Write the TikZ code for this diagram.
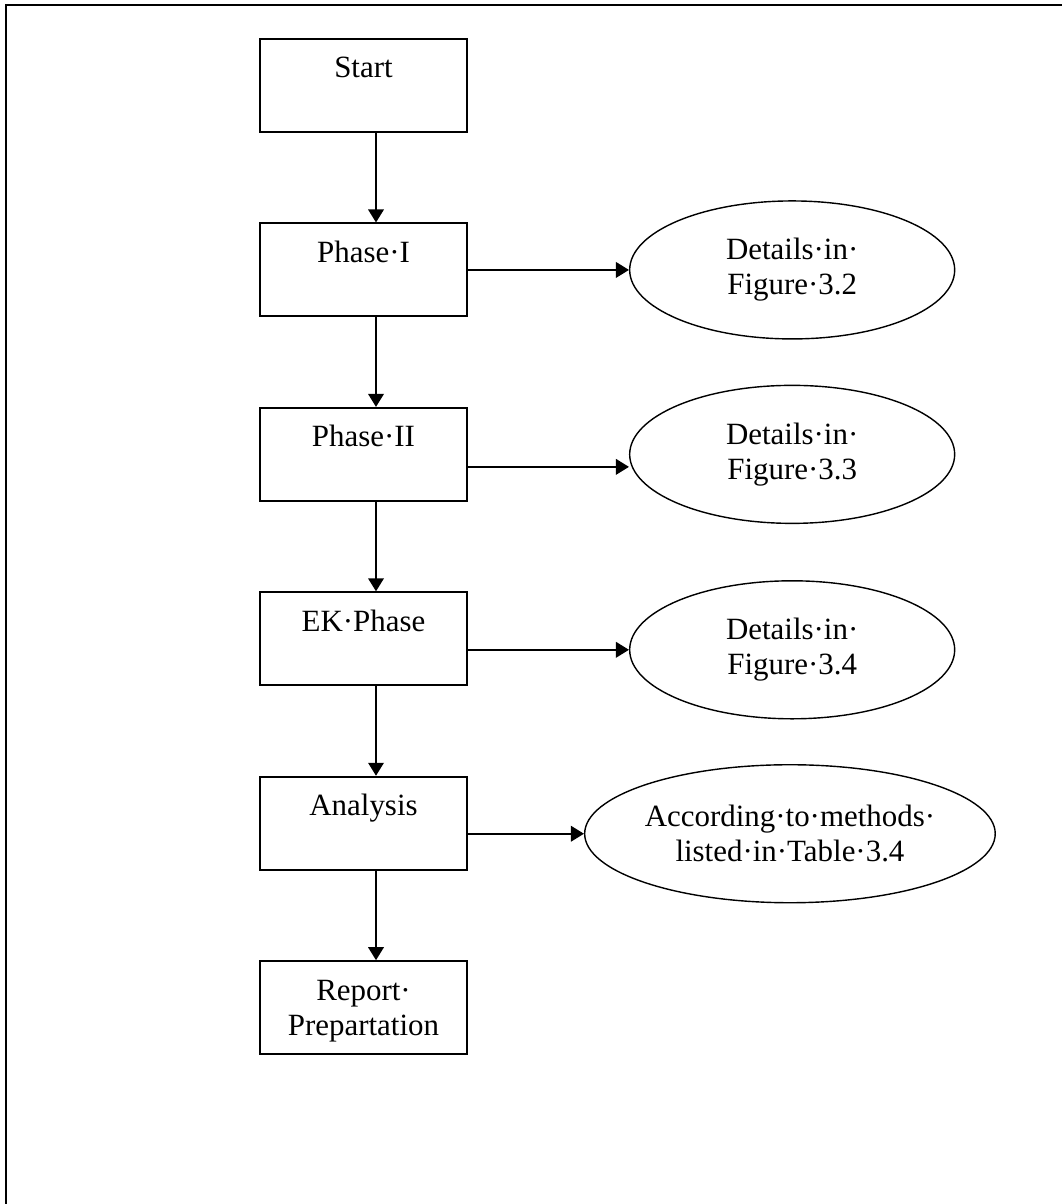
\documentclass[tikz,border=0pt]{standalone}
\usepackage{fontspec}
\setmainfont{Liberation Serif}
\usepackage{tikz}
\usetikzlibrary{arrows.meta,positioning,shapes.geometric}
\tikzset{
  stage/.style={draw=black,line width=1.1pt,minimum width=4.14cm,inner sep=0pt,text height=0.78cm,text depth=1.08cm},
  note/.style={ellipse,draw=black,line width=0.8pt,minimum width=6.5cm,minimum height=2.76cm,inner sep=0pt,align=center},
  arr/.style={-{Triangle[length=0.26cm,width=0.31cm]},draw=black,line width=1.1pt},
  frame/.style={draw=black,line width=1.3pt}
}

\begin{document}
\begin{tikzpicture}[node distance=1.79cm,font=\fontsize{17.6}{19.9}\selectfont]
  \useasboundingbox (0,0) rectangle (21.22,-24.08);
  \draw[frame] (0.12,-25) -- (0.12,-0.1) -- (22,-0.1);
  \node[stage] (start) at (7.27,-1.71) {Start};
  \node[stage,below=of start] (ph1) {Phase·I};
  \node[stage,below=of ph1] (ph2) {Phase·II};
  \node[stage,below=of ph2] (ek) {EK·Phase};
  \node[stage,below=of ek] (ana) {Analysis};
  \node[stage,below=of ana] (rep) {\begin{tabular}[t]{@{}c@{}}Report·\\Prepartation\end{tabular}};
  \node[note,right=3.22cm of ph1] (fig1) {Details·in·\\Figure·3.2};
  \node[note,right=3.22cm of ph2] (fig2) {Details·in·\\Figure·3.3};
  \node[note,right=3.22cm of ek,yshift=-0.22cm] (fig3) {Details·in·\\Figure·3.4};
  \node[note,right=2.32cm of ana,yshift=-0.21cm,minimum width=7.4cm] (tab) {According·to·methods·\\listed·in·Table·3.4};
  \foreach \a/\b in {start/ph1,ph1/ph2,ph2/ek,ek/ana,ana/rep}
    \draw[arr] ([xshift=0.25cm]\a.south) -- ([xshift=0.25cm]\b.north);
  \draw[arr] (fig1.west -| ph1.east) -- (fig1.west);
  \draw[arr] ([yshift=-0.25cm]ph2.east) -- ([yshift=-0.25cm]fig2.west);
  \draw[arr] (fig3.west -| ek.east) -- (fig3.west);
  \draw[arr] (tab.west -| ana.east) -- (tab.west);
\end{tikzpicture}
\end{document}
